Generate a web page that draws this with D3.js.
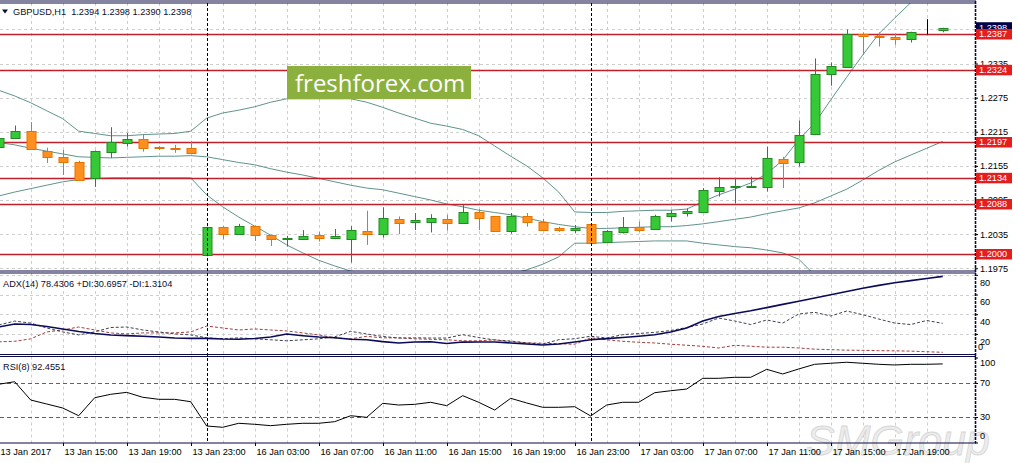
<!DOCTYPE html>
<html><head><meta charset="utf-8">
<script src="https://cdn.jsdelivr.net/npm/d3@7"></script>
<style>body{margin:0;background:#fff}svg{display:block}</style>
</head><body><svg id="c" width="1017" height="463"></svg>
<script>
const times = ["13 Jan 11:00","13 Jan 12:00","13 Jan 13:00","13 Jan 14:00","13 Jan 15:00","13 Jan 16:00","13 Jan 17:00","13 Jan 18:00","13 Jan 19:00","13 Jan 20:00","13 Jan 21:00","13 Jan 22:00","13 Jan 23:00",
"16 Jan 00:00","16 Jan 01:00","16 Jan 02:00","16 Jan 03:00","16 Jan 04:00","16 Jan 05:00","16 Jan 06:00","16 Jan 07:00","16 Jan 08:00","16 Jan 09:00","16 Jan 10:00","16 Jan 11:00","16 Jan 12:00","16 Jan 13:00","16 Jan 14:00","16 Jan 15:00","16 Jan 16:00","16 Jan 17:00","16 Jan 18:00","16 Jan 19:00","16 Jan 20:00","16 Jan 21:00","16 Jan 22:00","16 Jan 23:00",
"17 Jan 00:00","17 Jan 01:00","17 Jan 02:00","17 Jan 03:00","17 Jan 04:00","17 Jan 05:00","17 Jan 06:00","17 Jan 07:00","17 Jan 08:00","17 Jan 09:00","17 Jan 10:00","17 Jan 11:00","17 Jan 12:00","17 Jan 13:00","17 Jan 14:00","17 Jan 15:00","17 Jan 16:00","17 Jan 17:00","17 Jan 18:00","17 Jan 19:00","17 Jan 20:00","17 Jan 21:00","17 Jan 22:00"];

const open = [1.2188,1.2204,1.2217,1.2182,1.2171,1.2161,1.2133,1.2180,1.2195,1.2202,1.2188,1.2186,1.2186,
1.1998,1.2047,1.2036,1.2049,1.2033,1.2026,1.2027,1.2033,1.2028,1.2026,1.2041,1.2036,1.2061,1.2056,1.2057,1.2061,1.2055,1.2073,1.2066,1.2041,1.2067,1.2056,1.2045,1.2042,
1.2053,1.2021,1.2039,1.2048,1.2044,1.2067,1.2072,1.2074,1.2111,1.2117,1.2117,1.2117,1.2167,1.2161,1.2211,1.2316,1.2329,1.2387,1.2384,1.2382,1.2379,1.2391,1.2394];
const high = [1.2208,1.2226,1.2232,1.2187,1.2183,1.2164,1.2182,1.2223,1.2213,1.2211,1.2190,1.2192,1.2199,
1.2048,1.2049,1.2053,1.2050,1.2034,1.2032,1.2042,1.2039,1.2044,1.2049,1.2076,1.2082,1.2066,1.2072,1.2070,1.2069,1.2086,1.2079,1.2067,1.2072,1.2072,1.2062,1.2048,1.2051,
1.2054,1.2042,1.2065,1.2057,1.2069,1.2077,1.2080,1.2116,1.2135,1.2133,1.2136,1.2189,1.2171,1.2235,1.2344,1.2337,1.2395,1.2390,1.2390,1.2388,1.2391,1.2413,1.2398];
const low = [1.2185,1.2203,1.2183,1.2160,1.2139,1.2129,1.2118,1.2169,1.2189,1.2180,1.2183,1.2178,1.2177,
1.1996,1.2026,1.2035,1.2023,1.2014,1.2013,1.2025,1.2022,1.2026,1.1985,1.2016,1.2029,1.2035,1.2042,1.2038,1.2041,1.2053,1.2042,1.2040,1.2036,1.2048,1.2041,1.2039,1.2037,
1.2018,1.2020,1.2036,1.2039,1.2043,1.2057,1.2066,1.2073,1.2101,1.2089,1.2116,1.2110,1.2116,1.2154,1.2209,1.2296,1.2328,1.2350,1.2365,1.2368,1.2372,1.2386,1.2390];
const close = [1.2204,1.2217,1.2184,1.2171,1.2161,1.2131,1.2181,1.2197,1.2202,1.2187,1.2186,1.2185,1.2178,
1.2047,1.2036,1.2049,1.2033,1.2026,1.2029,1.2032,1.2029,1.2032,1.2042,1.2035,1.2063,1.2055,1.2059,1.2063,1.2055,1.2073,1.2063,1.2041,1.2067,1.2056,1.2043,1.2042,1.2046,
1.2019,1.2041,1.2047,1.2042,1.2067,1.2072,1.2076,1.2113,1.2117,1.2120,1.2120,1.2168,1.2160,1.2209,1.2317,1.2331,1.2387,1.2383,1.2382,1.2379,1.2390,1.2391,1.2398];

const bbUpper = [1.2288,1.2278,1.2266,1.2252,1.2238,1.2216,1.2212,1.2208,1.2208,1.2210,1.2211,1.2212,1.2216,
1.2239,1.2248,1.2253,1.2259,1.2267,1.2273,1.2273,1.2273,1.2273,1.2273,1.2267,1.2258,1.2248,1.2239,1.2230,1.2225,1.2219,1.2208,1.2190,1.2172,1.2155,1.2134,1.2109,1.2074,
1.2073,1.2073,1.2075,1.2076,1.2077,1.2077,1.2079,1.2092,1.2104,1.2114,1.2125,1.2141,1.2165,1.2201,1.2230,1.2271,1.2311,1.2350,1.2387,1.2415,1.2442,1.2464,1.2491];
const bbMiddle = [1.2196,1.2192,1.2186,1.2181,1.2176,1.2171,1.2170,1.2169,1.2170,1.2171,1.2172,1.2172,1.2173,
1.2171,1.2166,1.2161,1.2157,1.2150,1.2144,1.2139,1.2133,1.2127,1.2121,1.2116,1.2113,1.2107,1.2101,1.2095,1.2088,1.2083,1.2077,1.2073,1.2069,1.2063,1.2057,1.2052,1.2048,
1.2045,1.2045,1.2046,1.2047,1.2048,1.2048,1.2050,1.2053,1.2057,1.2061,1.2065,1.2071,1.2076,1.2081,1.2090,1.2102,1.2114,1.2130,1.2147,1.2162,1.2174,1.2186,1.2198];
const bbLower = [1.2102,1.2109,1.2115,1.2121,1.2127,1.2131,1.2133,1.2134,1.2134,1.2134,1.2134,1.2134,1.2134,
1.2104,1.2083,1.2065,1.2049,1.2033,1.2016,1.2002,1.1989,1.1979,1.1970,1.1966,1.1967,1.1967,1.1963,1.1960,1.1951,1.1946,1.1947,1.1956,1.1965,1.1972,1.1982,1.1995,1.2019,
1.2019,1.2020,1.2021,1.2022,1.2023,1.2023,1.2023,1.2019,1.2016,1.2013,1.2011,1.2007,1.2002,1.1991,1.1963,1.1933,1.1917,1.1910,1.1907,1.1908,1.1907,1.1908,1.1905];

const adx = [27,30,29.5,27.5,25,22.4,20.4,18.9,18.2,17.6,16.8,15.8,15.5,
15.5,14.8,14.5,15.3,16.8,19.9,18.2,16.8,16.1,14.6,14.1,12.2,10.8,11.8,12.1,10.3,11.7,11.8,11.8,10.8,9.7,8.7,9.7,11.8,
14.1,15.2,16.3,17.6,19.1,21.9,26,33,37.6,40.7,43.5,46.7,50,53.1,56.4,59.7,63,66.3,69.3,72,74.1,76.3,78.43];
const plusDI = [29,33,31,26,22,19,22,26.5,27,24,22,20,19,
16,15,16,15,14,13,14,15,17,22.6,19.9,17.4,15.8,16,15.8,15.8,19.2,16.3,13.8,12.8,10.8,9.7,14.1,15.1,
17.6,15.8,19.2,20.4,21.6,23.4,26.5,30,36.1,33.1,29.5,34.1,31,40.2,41.9,38.2,43.2,39.5,35.1,31,29.5,33.6,30.7];
const minusDI = [12,12.5,15,22,24,27,24,21,20,21,21,21,22,
28,26,24,25,24,23,21,19,16,15,17.5,16,16,15,14.5,14,13,13,14,12,11,10.5,10,9.5,
16,14,12.5,11.5,10.8,9.5,8.5,7.4,5.7,8.4,7.5,6.5,6.5,5.7,4.5,4,3.5,3.3,3,2.8,2.5,1.9,1.31];
const rsi = [68.5,71.5,50,45.3,40.6,31.5,52.7,56.7,59,53.2,50.8,50.8,48,
19.4,17.9,22.6,21.4,19.8,21.4,22.6,22.6,24.5,31.5,29.6,46.1,44.1,44.9,47.3,43.3,55.1,47.3,38.2,52,46.5,41.4,41.4,42.1,
31.2,44.1,47.3,47.3,58.6,60.9,62.9,75.5,75.5,76.7,76.7,86.1,80.6,86.5,92,93.2,94.4,93.2,92,91.2,92,92,92.46];

const priceTicks = [1.1975,1.2035,1.2095,1.2155,1.2215,1.2275,1.2335,1.2395];
const levelLines = [1.2387,1.2324,1.2197,1.2134,1.2088,1.2000];
const lastPrice = 1.2398;
const adxTicks = [80,60,40,20];
const adxMin = 0;
const rsiTicks = [100,70,30,0];
const rsiLevels = [70,30];
const xTickCats = ["13 Jan 11:00","13 Jan 15:00","13 Jan 19:00","13 Jan 23:00","16 Jan 03:00","16 Jan 07:00","16 Jan 11:00","16 Jan 15:00","16 Jan 19:00","16 Jan 23:00","17 Jan 03:00","17 Jan 07:00","17 Jan 11:00","17 Jan 15:00","17 Jan 19:00"];
const xTickLabels = ["13 Jan 2017","13 Jan 15:00","13 Jan 19:00","13 Jan 23:00","16 Jan 03:00","16 Jan 07:00","16 Jan 11:00","16 Jan 15:00","16 Jan 19:00","16 Jan 23:00","17 Jan 03:00","17 Jan 07:00","17 Jan 11:00","17 Jan 15:00","17 Jan 19:00"];
const separators = ["16 Jan 00:00","17 Jan 00:00"];
const titleMain = "GBPUSD,H1  1.2394 1.2398 1.2390 1.2398";
const titleAdx = "ADX(14) 78.4306 +DI:30.6957 -DI:1.3104";
const titleRsi = "RSI(8) 92.4551";

// ---- layout
const FONT = "'Liberation Sans', Arial, sans-serif";
const FS = 9.2;
const R = 975;
const panels = {main:[3,271], adx:[273,354], rsi:[356.5,443]};
const svg = d3.select("#c");
svg.append("rect").attr("width",1017).attr("height",463).attr("fill","#fff");

const x = d3.scalePoint().domain(times).range([-1.3, 942.7]);
const y = d3.scaleLinear().domain([1.19701, 1.24415]).range([271, 3]);
const yA = d3.scaleLinear().domain([0, 80]).range([353.6, 274.8]);
const yR = d3.scaleLinear().domain([0, 100]).range([442.5, 357.5]);
const px = d => Math.round(x(d)) + 0.5;

const defs = svg.append("defs");
Object.entries(panels).forEach(([k,[t,b]]) => {
  defs.append("clipPath").attr("id","clip-"+k).append("rect").attr("x",0).attr("y",t).attr("width",R).attr("height",b-t);
});

// ---- grid
const gridX = times.filter((d,i) => i % 2 === 0);
const grid = svg.append("g").attr("stroke","#cfcfcf").attr("stroke-width",1).attr("stroke-dasharray","3,3");
Object.values(panels).forEach(([t,b]) => {
  grid.append("g").selectAll("line").data(gridX).enter().append("line")
    .attr("x1",px).attr("x2",px).attr("y1",t).attr("y2",b);
});
grid.append("g").selectAll("line").data(priceTicks).enter().append("line")
  .attr("x1",0).attr("x2",R).attr("y1",d=>Math.round(y(d))+0.5).attr("y2",d=>Math.round(y(d))+0.5);
grid.append("g").selectAll("line").data(adxTicks).enter().append("line")
  .attr("x1",0).attr("x2",R).attr("y1",d=>Math.round(yA(d))+0.5).attr("y2",d=>Math.round(yA(d))+0.5);

// ---- main panel
const gm = svg.append("g").attr("clip-path","url(#clip-main)");
const bandLine = d3.line().x((d,i)=>x(times[i])).y(d=>y(d));
[bbUpper,bbMiddle,bbLower].forEach(arr => {
  gm.append("path").attr("d",bandLine(arr)).attr("fill","none").attr("stroke","#5f948c").attr("stroke-width",1);
});
gm.append("g").selectAll("line").data(levelLines).enter().append("line")
  .attr("x1",0).attr("x2",R).attr("y1",d=>Math.round(y(d))+0.5).attr("y2",d=>Math.round(y(d))+0.5)
  .attr("stroke","#c0202a").attr("stroke-width",1.3);

const candles = times.map((t,i)=>({t,o:open[i],h:high[i],l:low[i],c:close[i]}));
const colr = d => d.c > d.o ? {fill:"#36c936",stroke:"#238a23",wick:"#238a23"} :
                 d.c < d.o ? {fill:"#ff901e",stroke:"#e37400",wick:"#e37400"} :
                             {fill:"#000",stroke:"#000",wick:"#000"};
const cg = gm.append("g");
cg.selectAll("line").data(candles).enter().append("line")
  .attr("x1",d=>px(d.t)).attr("x2",d=>px(d.t))
  .attr("y1",d=>y(d.h)).attr("y2",d=>y(d.l))
  .attr("stroke",d=>colr(d).wick).attr("stroke-width",1);
cg.selectAll("rect").data(candles).enter().append("rect")
  .attr("x",d=>px(d.t)-4.5).attr("width",9)
  .attr("y",d=>Math.round(y(Math.max(d.o,d.c)))+0.5)
  .attr("height",d=>Math.max(0, Math.round(y(Math.min(d.o,d.c))) - Math.round(y(Math.max(d.o,d.c)))))
  .attr("fill",d=>colr(d).fill).attr("stroke",d=>colr(d).stroke).attr("stroke-width",1);

// ---- ADX panel
const ga = svg.append("g").attr("clip-path","url(#clip-adx)");
const lineA = d3.line().x((d,i)=>x(times[i])).y(d=>yA(d));
ga.append("path").attr("d",lineA(minusDI)).attr("fill","none").attr("stroke","#a63c3c").attr("stroke-width",1).attr("stroke-dasharray","3,2");
ga.append("path").attr("d",lineA(plusDI)).attr("fill","none").attr("stroke","#3c4050").attr("stroke-width",1).attr("stroke-dasharray","3,2");
ga.append("path").attr("d",lineA(adx)).attr("fill","none").attr("stroke","#0a0a5a").attr("stroke-width",1.6);

// ---- RSI panel
const gr = svg.append("g").attr("clip-path","url(#clip-rsi)");
gr.append("g").selectAll("line").data(rsiLevels).enter().append("line")
  .attr("x1",0).attr("x2",R).attr("y1",d=>Math.round(yR(d))+0.5).attr("y2",d=>Math.round(yR(d))+0.5)
  .attr("stroke","#c0393b").attr("stroke-width",1).attr("stroke-dasharray","4,3");
gr.append("path").attr("d",d3.line().x((d,i)=>x(times[i])).y(d=>yR(d))(rsi))
  .attr("fill","none").attr("stroke","#000").attr("stroke-width",1);

// ---- period separators
svg.append("g").selectAll("line").data(separators).enter().append("line")
  .attr("x1",px).attr("x2",px).attr("y1",3).attr("y2",443)
  .attr("stroke","#000").attr("stroke-width",1).attr("stroke-dasharray","3,2");

// ---- watermark
svg.append("text").attr("x",806).attr("y",455).text("SMGroup")
  .attr("font-family",FONT).attr("font-style","italic").attr("font-size",43)
  .attr("fill","#ececec").attr("stroke","#d6d6d6").attr("stroke-width",0.8);

// ---- frames
const frame = svg.append("g").attr("stroke","#0b0b45").attr("stroke-width",1.2);
[1,3,271,273,354.5,356.5,443].forEach(v => frame.append("line").attr("x1",0).attr("x2",R+1).attr("y1",v).attr("y2",v));
svg.append("line").attr("x1",R+0.5).attr("x2",R+0.5).attr("y1",1).attr("y2",443)
  .attr("stroke","#0b0b45").attr("stroke-width",1.6).attr("stroke-dasharray","3,1");

// ---- axes
function styleAxis(g){
  g.attr("font-family",FONT).attr("font-size",FS);
  g.select(".domain").remove();
  g.selectAll("line").attr("stroke","#000");
  g.selectAll("text").attr("fill","#000");
}
const axP = svg.append("g").attr("transform",`translate(${R},0)`)
  .call(d3.axisRight(y).tickValues(priceTicks).tickSize(3).tickPadding(2).tickFormat(d3.format(".4f")));
styleAxis(axP);

const axA = svg.append("g").attr("transform",`translate(${R},0)`)
  .call(d3.axisRight(yA).tickValues(adxTicks).tickSize(3).tickPadding(2).tickFormat(d3.format("d")));
styleAxis(axA);
axA.selectAll("text").attr("dy","0.32em").attr("transform","translate(0,7.3)");
axA.append("text").attr("x",3).attr("y",347).attr("dy","0.32em").attr("fill","#000").text(d3.format("d")(adxMin));

const axR = svg.append("g").attr("transform",`translate(${R},0)`)
  .call(d3.axisRight(yR).tickValues(rsiTicks).tickSize(3).tickPadding(2).tickFormat(d3.format("d")));
styleAxis(axR);
axR.selectAll(".tick text").attr("transform",d => d===100 ? "translate(0,5.5)" : d===0 ? "translate(0,-6.5)" : null);

const axX = svg.append("g").attr("transform","translate(0,443)")
  .call(d3.axisBottom(x).tickValues(xTickCats).tickSize(3).tickPadding(2).tickFormat((d,i)=>xTickLabels[i]));
styleAxis(axX);
axX.selectAll(".tick").attr("transform",d=>`translate(${px(d)},0)`);
axX.selectAll("text").attr("text-anchor","start").attr("x",1);

// ---- price boxes
const boxes = svg.append("g").attr("font-family",FONT).attr("font-size",FS);
boxes.append("rect").attr("x",R+1).attr("y",y(lastPrice)-5.5).attr("width",36).attr("height",11).attr("fill","#00004a");
boxes.append("text").attr("x",R+4).attr("y",y(lastPrice)).attr("dy","0.34em").attr("fill","#fff").text(d3.format(".4f")(lastPrice));
const lb = boxes.selectAll("g.lvl").data(levelLines).enter().append("g");
lb.append("rect").attr("x",R+1).attr("y",d=>y(d)-5).attr("width",36).attr("height",10.5).attr("fill","#e41d1d");
lb.append("text").attr("x",R+4).attr("y",d=>y(d)).attr("dy","0.34em").attr("fill","#fff").text(d=>d3.format(".4f")(d));

// ---- titles
const tg = svg.append("g").attr("font-family",FONT).attr("font-size",FS).attr("fill","#0c0c30");
tg.append("path").attr("d","M2,9.5 L8,9.5 L5,13.5 Z");
tg.append("text").attr("x",13).attr("y",15).text(titleMain).style("white-space","pre").attr("xml:space","preserve");
tg.append("text").attr("x",3).attr("y",286.5).text(titleAdx);
tg.append("text").attr("x",3).attr("y",369.5).text(titleRsi);

// ---- logo
const logo = svg.append("g");
logo.append("rect").attr("x",287).attr("y",66).attr("width",184).attr("height",33).attr("fill","#8cb03e");
logo.append("text").attr("x",295).attr("y",91.5).text("freshforex.com")
  .attr("font-family","'Open Sans', sans-serif").attr("font-size",24).attr("fill","#fff");
</script>
</body></html>
